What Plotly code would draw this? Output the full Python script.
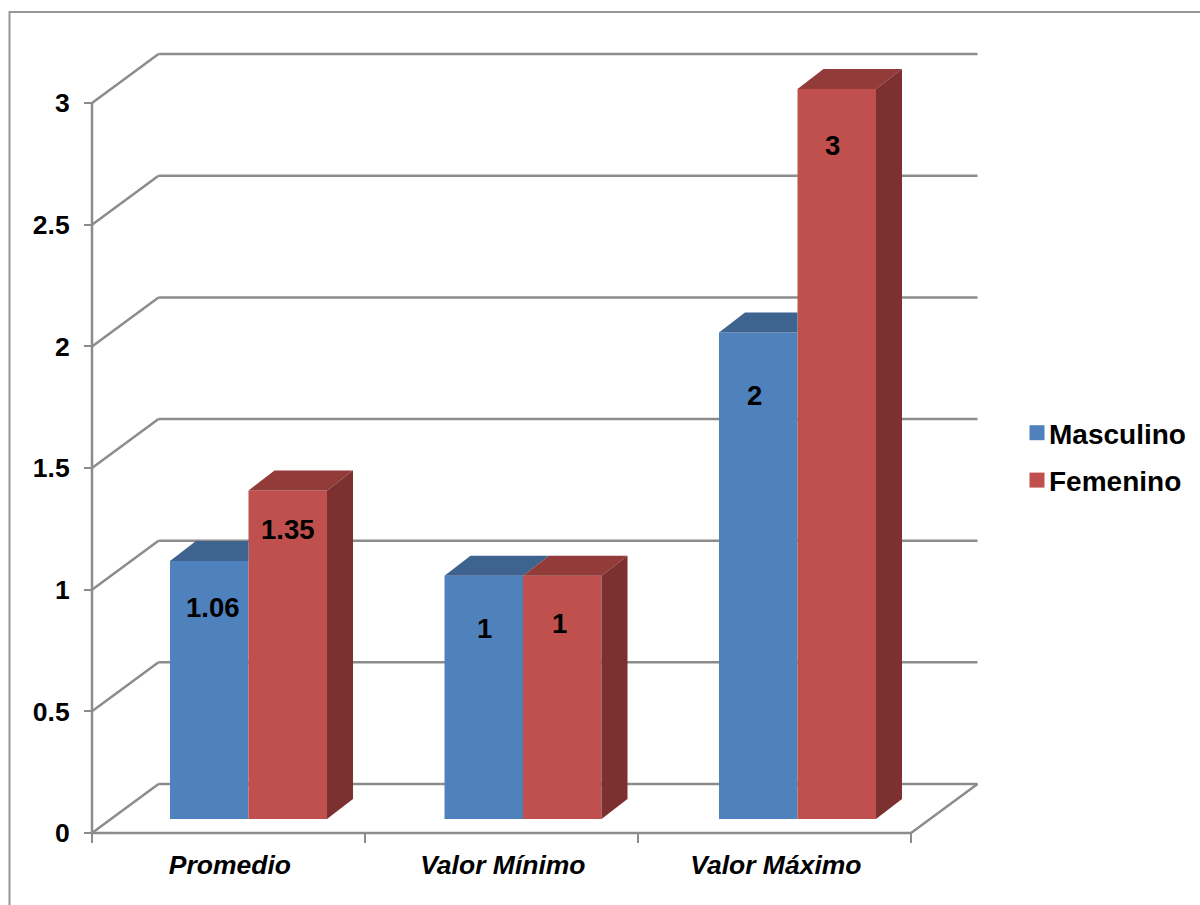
import plotly.graph_objects as go

categories = ["Promedio", "Valor Mínimo", "Valor Máximo"]
masculino = [1.06, 1, 2]
femenino = [1.35, 1, 3]
y_ticks = [0, 0.5, 1, 1.5, 2, 2.5, 3]
y_tick_labels = ["0", "0.5", "1", "1.5", "2", "2.5", "3"]

FONT = "Liberation Sans, Arial, sans-serif"
GREY = "#8c8c8c"
BLUE, BLUE_TOP = "#4f81bd", "#3f638f"
RED, RED_TOP, RED_SIDE = "#c0504d", "#923b39", "#7c3130"

# Plot geometry in pixels; the data axes are derived from it.
# The plot rectangle runs past the origin so the box edges are not clipped,
# and under the legend so the legend stays inside it.
WIDTH, HEIGHT = 1200, 905
ORIGIN_X, ORIGIN_Y = 92, 833
LEFT, RIGHT, TOP, BOTTOM = 84, 1198, 47, 840
X_UNIT, Y_UNIT = 273.0, 243.3


def ux(px):
    return px / X_UNIT


def uy(px):
    return px / Y_UNIT


# Oblique projection used to fake the box and the bar depth.
WALL_DX, WALL_DY = ux(66.5), uy(49)
BAR_DX, BAR_DY = ux(26), uy(20)
BAR_BASE = uy(14)
BAR_W = ux(78.5)
GROUP_START = ux(78)
GROUP_PITCH = ux(274.5)

fig = go.Figure()

# Back wall and floor rails sit under the bars.
shapes = []
for v in y_ticks:
    shapes.append(dict(type="line", xref="x", yref="y", layer="below",
                       x0=WALL_DX, x1=3 + WALL_DX, y0=v + WALL_DY, y1=v + WALL_DY,
                       line=dict(color=GREY, width=2.5)))
    if v > 0:
        shapes.append(dict(type="line", xref="x", yref="y", layer="below",
                           x0=0, x1=WALL_DX, y0=v, y1=v + WALL_DY,
                           line=dict(color=GREY, width=2.5)))

# Chart frame, running off the right and bottom of the page.
to_px_x = lambda p: (p - LEFT) / (RIGHT - LEFT)
to_px_y = lambda p: 1 - (p - TOP) / (BOTTOM - TOP)
shapes.append(dict(type="rect", xref="paper", yref="paper", layer="below",
                   x0=to_px_x(9.5), x1=to_px_x(1260), y0=to_px_y(12), y1=to_px_y(960),
                   line=dict(color="#969696", width=2), fillcolor="rgba(0,0,0,0)"))

# Front face of each bar.
x_blue = [GROUP_START + i * GROUP_PITCH for i in range(len(categories))]
x_red = [x + BAR_W for x in x_blue]
fig.add_bar(x=[x + BAR_W / 2 for x in x_blue], y=masculino, base=BAR_BASE, width=BAR_W,
            marker=dict(color=BLUE, line=dict(width=0)), name="Masculino", showlegend=False)
fig.add_bar(x=[x + BAR_W / 2 for x in x_red], y=femenino, base=BAR_BASE, width=BAR_W,
            marker=dict(color=RED, line=dict(width=0)), name="Femenino", showlegend=False)


def polygon(xs, ys, color):
    fig.add_scatter(x=xs, y=ys, mode="lines", fill="toself", fillcolor=color,
                    line=dict(width=0), hoverinfo="skip", showlegend=False)


# Top faces. A taller red bar hides the right end of the blue top, so that
# face stops at the red front; the blue side is always behind the red bar.
for x0, v, other in zip(x_blue, masculino, femenino):
    t = BAR_BASE + v
    xr = x0 + BAR_W
    if other > v:
        polygon([x0, xr, xr, x0 + BAR_DX, x0],
                [t, t, t + BAR_DY, t + BAR_DY, t], BLUE_TOP)
    else:
        polygon([x0, xr, xr + BAR_DX, x0 + BAR_DX, x0],
                [t, t, t + BAR_DY, t + BAR_DY, t], BLUE_TOP)
for x0, v in zip(x_red, femenino):
    t = BAR_BASE + v
    polygon([x0, x0 + BAR_W, x0 + BAR_W + BAR_DX, x0 + BAR_DX, x0],
            [t, t, t + BAR_DY, t + BAR_DY, t], RED_TOP)
    xr = x0 + BAR_W
    polygon([xr, xr + BAR_DX, xr + BAR_DX, xr, xr],
            [BAR_BASE, BAR_BASE + BAR_DY, t + BAR_DY, t, BAR_BASE], RED_SIDE)

# Front edges of the box: vertical axis, floor front, both floor sides.
edge_x = [0, 0, None, 0, 3, WALL_DX + 3, None, 0, WALL_DX]
edge_y = [0, 3, None, 0, 0, WALL_DY, None, 0, WALL_DY]
fig.add_scatter(x=edge_x, y=edge_y, mode="lines", line=dict(color=GREY, width=2.5),
                hoverinfo="skip", showlegend=False)

# Legend entries; the standoff pulls each swatch closer to its text.
for name, color in (("Masculino", BLUE), ("Femenino", RED)):
    fig.add_scatter(x=[None], y=[None], mode="markers", name=name, legendgroup=name,
                    marker=dict(symbol="square", size=15, color=color, angle=90, standoff=8))

# Value labels, nudged inside each bar.
label_nudge_m = [(4, -46), (1, -53), (-4, -63)]
label_nudge_f = [(0, -39), (-3, -48), (-4, -56)]
annotations = []
for xs, vals, nudges in ((x_blue, masculino, label_nudge_m), (x_red, femenino, label_nudge_f)):
    for x0, v, (dx, dy) in zip(xs, vals, nudges):
        annotations.append(dict(x=x0 + BAR_W / 2, y=BAR_BASE + v, xref="x", yref="y",
                                text=f"{v:g}", showarrow=False, xshift=dx, yshift=dy,
                                font=dict(family=FONT, size=27.5, color="black", weight="bold")))

fig.update_layout(
    width=WIDTH, height=HEIGHT, autosize=False,
    margin=dict(l=LEFT, r=WIDTH - RIGHT, t=TOP, b=HEIGHT - BOTTOM, pad=0),
    paper_bgcolor="white", plot_bgcolor="rgba(0,0,0,0)",
    font=dict(family=FONT, color="black"),
    barmode="overlay", shapes=shapes, annotations=annotations,
    legend=dict(x=to_px_x(1009), y=to_px_y(408), xanchor="left", yanchor="top",
                font=dict(family=FONT, size=28, color="black", weight="bold"),
                bgcolor="rgba(0,0,0,0)", tracegroupgap=8, itemclick=False),
    xaxis=dict(range=[ux(LEFT - ORIGIN_X), ux(RIGHT - ORIGIN_X)],
               anchor="free", position=(BOTTOM - ORIGIN_Y) / (BOTTOM - TOP),
               showgrid=False, zeroline=False, showline=False,
               tickmode="array", tickvals=[i + 0.505 for i in range(len(categories))],
               ticktext=categories, ticks="", ticklabelstandoff=13,
               tickfont=dict(family=FONT, size=26.5, color="black", weight="bold", style="italic"),
               minor=dict(tickmode="array", tickvals=[0, 1, 2, 3], ticks="outside",
                          ticklen=9, tickwidth=2, tickcolor=GREY, showgrid=False)),
    yaxis=dict(range=[uy(ORIGIN_Y - BOTTOM), uy(ORIGIN_Y - TOP)],
               anchor="free", position=(ORIGIN_X - LEFT) / (RIGHT - LEFT),
               showgrid=False, zeroline=False, showline=False,
               tickmode="array", tickvals=y_ticks, ticktext=y_tick_labels,
               ticks="outside", ticklen=8, tickwidth=2, tickcolor=GREY, ticklabelstandoff=9,
               tickfont=dict(family=FONT, size=26.5, color="black", weight="bold")),
)

fig.write_html("out.html")
